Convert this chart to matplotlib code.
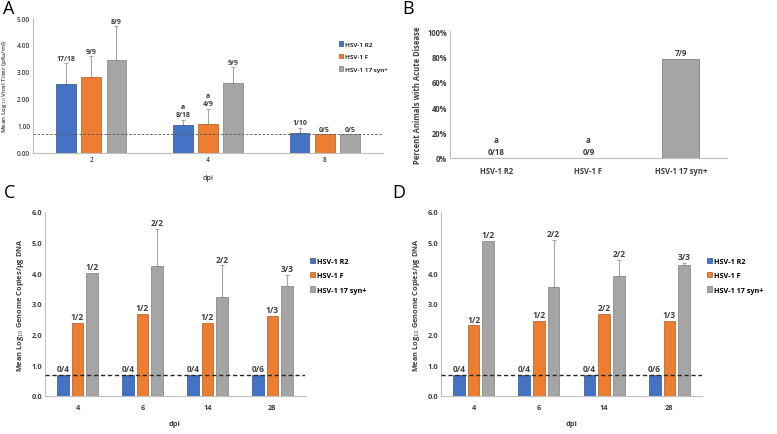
import numpy as np
import matplotlib.pyplot as plt

plt.rcParams['font.family'] = ['Open Sans', 'DejaVu Sans']

strains = ['HSV-1 R2', 'HSV-1 F', 'HSV-1 17 syn+']
colors = ['#4472C4', '#ED7D31', '#A5A5A5']
edges = ['#2F528F', '#AE5A21', '#7F7F7F']

# panel A - viral titer
dpi_a = ['2', '4', '8']
titer_r2 = [2.54, 1.04, 0.75]
titer_f = [2.83, 1.06, 0.69]
titer_syn = [3.43, 2.58, 0.69]
titer_r2_err = [0.79, 0.19, 0.19]
titer_f_err = [0.75, 0.58, 0.0]
titer_syn_err = [1.27, 0.61, 0.0]
lab_a_r2 = ['17/18', 'a\n8/18', '1/10']
lab_a_f = ['9/9', 'a\n4/9', '0/5']
lab_a_syn = ['8/9', '9/9', '0/5']

# panel B - acute disease
disease_pct = [0.0, 0.0, 7 / 9 * 100]
lab_b = ['a\n0/18', 'a\n0/9', '7/9']

# panels C and D - genome copies
dpi_cd = ['4', '6', '14', '28']
c_r2 = [0.70, 0.70, 0.70, 0.70]
c_f = [2.37, 2.67, 2.38, 2.60]
c_syn = [4.00, 4.23, 3.24, 3.58]
c_syn_err = [0.0, 1.23, 1.02, 0.36]
d_r2 = [0.70, 0.70, 0.70, 0.70]
d_f = [2.30, 2.44, 2.68, 2.44]
d_syn = [5.06, 3.54, 3.92, 4.27]
d_syn_err = [0.0, 1.55, 0.52, 0.06]
lab_r2 = ['0/4', '0/4', '0/4', '0/6']
lab_c_f = ['1/2', '1/2', '1/2', '1/3']
lab_d_f = ['1/2', '1/2', '2/2', '1/3']
lab_syn = ['1/2', '2/2', '2/2', '3/3']

limit = np.log10(5)

W, H = 777, 435
fig = plt.figure(figsize=(W / 100, H / 100), dpi=100)


def add_ax(x0, y0, x1, y1):
    return fig.add_axes([x0 / W, 1 - y1 / H, (x1 - x0) / W, (y1 - y0) / H])


def style(ax):
    for s in ['top', 'right']:
        ax.spines[s].set_visible(False)
    for s in ['left', 'bottom']:
        ax.spines[s].set_color('#BFBFBF')
        ax.spines[s].set_linewidth(0.8)
    ax.tick_params(length=0, pad=2)


def grouped(ax, cats, series, errs, labels, width, step, fs, bold, ymax, yfmt, lab_fs):
    x = np.arange(len(cats))
    for i, vals in enumerate(series):
        pos = x + (i - 1) * step
        ax.bar(pos, vals, width, color=colors[i], edgecolor=edges[i], lw=0.5,
               label=strains[i], zorder=2)
        e = errs[i]
        if e is not None:
            ys = np.array(vals)
            mask = np.array(e) > 0
            ax.errorbar(pos[mask], ys[mask], yerr=[np.zeros(mask.sum()), np.array(e)[mask]],
                        fmt='none', ecolor='#A6A6A6', elinewidth=0.8, capsize=1.5,
                        capthick=0.8, zorder=1)
        for j, v in enumerate(vals):
            top = v + (errs[i][j] if errs[i] is not None else 0)
            ax.text(pos[j], top + ymax * 0.01, labels[i][j], ha='center', va='bottom',
                    fontsize=lab_fs, fontweight='bold',
                    color='#404040', linespacing=1.3)
    ax.set_xlim(-0.5, len(cats) - 0.5)
    ax.set_ylim(0, ymax)
    ax.set_xticks(x)
    ax.set_xticklabels(cats, fontsize=fs, fontweight='bold' if bold else 'semibold', color='#404040')
    ax.set_yticks(np.arange(0, ymax + 0.01, 1))
    ax.set_yticklabels([yfmt.format(v) for v in np.arange(0, ymax + 0.01, 1)],
                       fontsize=fs, fontweight='bold' if bold else 'semibold', color='#404040')
    style(ax)


# A
axA = add_ax(33, 19, 383, 154)
grouped(axA, dpi_a, [titer_r2, titer_f, titer_syn], [titer_r2_err, titer_f_err, titer_syn_err],
        [lab_a_r2, lab_a_f, lab_a_syn], 0.17, 0.215, 4.8, False, 5.0, '{:.2f}', 5)
axA.axhline(limit, color='#595959', ls='--', lw=0.6, dashes=(3, 2), zorder=3)
axA.set_xlabel('dpi', fontsize=5, color='#404040', labelpad=8, fontweight='semibold')
axA.set_ylabel('Mean Log$_{10}$ Viral Titer (pfu/ml)', fontsize=4.5, color='#404040',
               fontweight='semibold')
axA.yaxis.set_label_coords(-0.068, 0.5)
axA.legend(loc='upper left', bbox_to_anchor=(0.865, 0.85), frameon=False,
           prop={'weight': 'semibold', 'size': 4.6},
           handlelength=0.7, handleheight=0.7, labelspacing=1.1, handletextpad=0.3, borderpad=0)

# B
axB = add_ax(450, 32, 727, 159)
xb = np.arange(len(strains))
axB.bar(xb, disease_pct, 0.4, color='#A5A5A5', edgecolor='#7F7F7F', lw=0.6, zorder=2)
for j, v in enumerate(disease_pct):
    axB.text(xb[j], v + 1.5, lab_b[j], ha='center', va='bottom', fontsize=5.8,
             color='#404040', linespacing=1.5, fontweight='bold')
axB.set_xlim(-0.5, 2.5)
axB.set_ylim(0, 100)
axB.set_xticks(xb)
axB.set_xticklabels(strains, fontsize=5.5, fontweight='bold', color='#404040')
axB.set_yticks(np.arange(0, 101, 20))
axB.set_yticklabels([f'{v}%' for v in range(0, 101, 20)], fontsize=5.5,
                    fontweight='bold', color='#404040')
axB.set_ylabel('Percent Animals with Acute Disease', fontsize=5.5, color='#404040',
               fontweight='bold')
style(axB)
axB.tick_params(axis='x', pad=6)

# C and D
for (x0, x1, f, syn, err, flab, letter, lx, legx) in [
        (45, 305, c_f, c_syn, c_syn_err, lab_c_f, 'C', 4, 1.005),
        (441, 702, d_f, d_syn, d_syn_err, lab_d_f, 'D', 392, 1.005)]:
    ax = add_ax(x0, 213, x1, 397)
    grouped(ax, dpi_cd, [c_r2 if letter == 'C' else d_r2, f, syn], [None, None, err],
            [lab_r2, flab, lab_syn], 0.18, 0.225, 5.3, True, 6.0, '{:.1f}', 6)
    ax.axhline(limit, color='#262626', ls='--', lw=1.0, dashes=(3, 2), zorder=3)
    ax.set_xlabel('dpi', fontsize=5.3, color='#404040', fontweight='bold', labelpad=6)
    ax.set_ylabel('Mean Log$_{10}$ Genome Copies/µg DNA', fontsize=5.3, color='#404040',
                  fontweight='bold', labelpad=4)
    ax.tick_params(axis='x', pad=6)
    ax.legend(loc='upper left', bbox_to_anchor=(legx, 0.77),
              prop={'weight': 'bold', 'size': 5.2}, frameon=False, handlelength=0.7,
              handleheight=0.7, labelspacing=1.0, handletextpad=0.3, borderpad=0)
    fig.text(lx / W, 1 - 184 / H, letter, fontsize=13, va='top', ha='left')

fig.text(3 / W, 1 - 0 / H, 'A', fontsize=13, va='top', ha='left')
fig.text(402 / W, 1 - 0 / H, 'B', fontsize=13, va='top', ha='left')

fig.savefig('out.png', dpi=100)
